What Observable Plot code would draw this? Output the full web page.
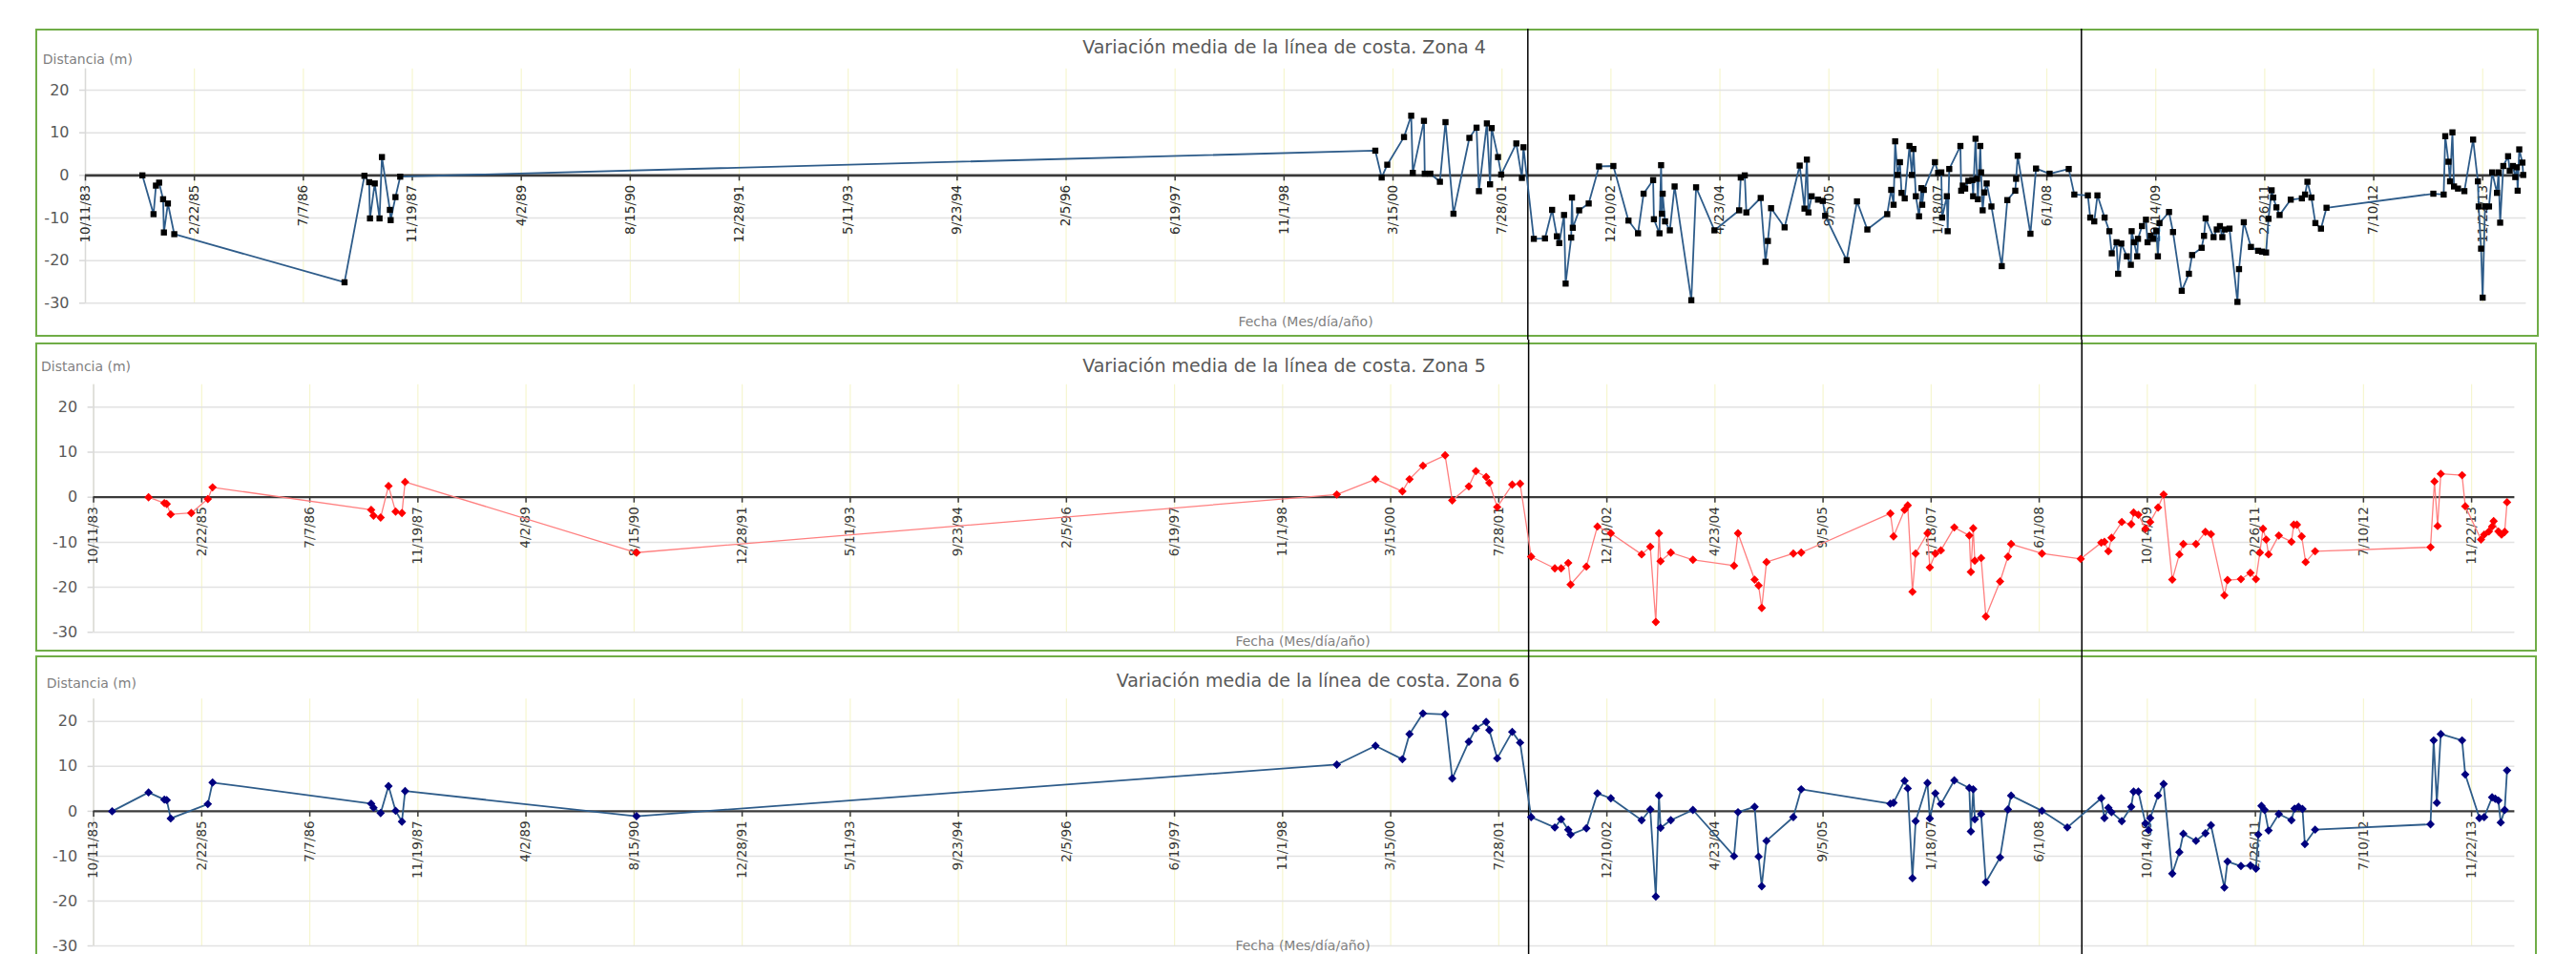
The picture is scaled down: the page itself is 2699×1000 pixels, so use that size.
<!DOCTYPE html>
<html>
<head>
<meta charset="utf-8">
<script src="https://cdn.jsdelivr.net/npm/d3@7"></script>
<script src="https://cdn.jsdelivr.net/npm/@observablehq/plot@0.6"></script>
<style>
  body { margin: 0; background: #fff; }
  #root { position: relative; width: 2699px; height: 1000px; overflow: hidden; font-family: "DejaVu Sans", sans-serif; }
  .box { position: absolute; border: 2px solid #70ad47; box-sizing: border-box; }
  .plot { position: absolute; left: 0; }
  .title { position: absolute; font-size: 19px; color: #595959; white-space: nowrap; transform: translate(-50%, -50%); }
  .ylab { position: absolute; font-size: 14px; color: #7f7f7f; white-space: nowrap; transform: translateY(-50%); }
  .xlab { position: absolute; font-size: 14px; color: #7f7f7f; white-space: nowrap; transform: translate(-50%, -50%); }
</style>
</head>
<body>
<div id="root"></div>
<script>
// ---------------- DATA ----------------
const xTickLabels = ["10/11/83","2/22/85","7/7/86","11/19/87","4/2/89","8/15/90","12/28/91","5/11/93","9/23/94","2/5/96","6/19/97","11/1/98","3/15/00","7/28/01","12/10/02","4/23/04","9/5/05","1/18/07","6/1/08","10/14/09","2/26/11","7/10/12","11/22/13"];
const yTicks = [-30, -20, -10, 0, 10, 20];
const titles = ["Variación media de la línea de costa. Zona 4", "Variación media de la línea de costa. Zona 5", "Variación media de la línea de costa. Zona 6"];
const yAxisTitle = "Distancia (m)";
const xAxisTitle = "Fecha (Mes/día/año)";

// vertical divider lines (decimal years, as read in each panel)
const dividersZona4 = [2001.895, 2008.849];
const dividersZona56 = [2001.948, 2008.954];

// Zona 4 (decimal year, distance m)
const years4 = [1984.49,1984.63,1984.66,1984.70,1984.75,1984.76,1984.81,1984.89,1987.03,1987.28,1987.34,1987.35,1987.41,1987.47,1987.50,1987.60,1987.61,1987.67,1987.73,
1999.98,2000.06,2000.13,2000.34,2000.43,2000.45,2000.59,2000.60,2000.67,2000.79,2000.86,2000.96,2001.16,2001.25,2001.28,2001.38,2001.42,2001.44,2001.52,2001.56,2001.75,2001.82,2001.84,
2001.97,2002.11,2002.20,2002.26,2002.29,2002.35,2002.37,2002.44,2002.45,2002.46,2002.54,2002.66,2002.79,2002.97,2003.16,2003.28,2003.35,2003.47,2003.48,2003.55,2003.57,2003.58,2003.59,2003.62,2003.68,2003.74,2003.95,2004.01,2004.24,
2004.55,2004.57,2004.62,2004.64,2004.82,2004.88,2004.91,2004.95,2005.12,2005.31,2005.37,2005.40,2005.42,2005.46,2005.54,2005.60,2005.63,2005.90,2006.03,2006.16,
2006.41,2006.46,2006.49,2006.51,2006.54,2006.57,2006.59,2006.63,2006.69,2006.72,2006.74,2006.77,2006.81,2006.84,2006.85,2006.87,2007.01,2007.05,2007.09,2007.10,2007.16,2007.17,2007.19,
2007.33,2007.34,2007.36,2007.39,2007.43,2007.48,2007.49,2007.52,2007.54,2007.55,2007.58,2007.59,2007.61,2007.63,2007.66,2007.72,2007.85,2007.92,2008.02,2008.03,2008.05,2008.21,2008.28,2008.45,2008.69,2008.76,
2008.93,2008.96,2009.01,2009.05,2009.14,2009.20,2009.23,2009.29,2009.31,2009.35,2009.42,2009.47,2009.48,2009.51,2009.55,2009.56,2009.61,2009.66,2009.68,2009.72,2009.75,2009.79,2009.81,2009.83,2009.95,2010.00,
2010.11,2010.20,2010.24,2010.36,2010.39,2010.41,2010.51,2010.55,2010.59,2010.62,2010.65,2010.71,2010.81,2010.83,2010.89,2010.98,2011.07,2011.12,2011.17,2011.20,2011.24,2011.26,2011.30,2011.34,2011.48,2011.62,2011.66,2011.69,2011.74,2011.79,2011.86,2011.93,
2013.27,2013.40,2013.42,2013.46,2013.48,2013.51,2013.53,2013.58,2013.66,2013.77,2013.83,2013.84,2013.87,2013.89,2013.92,2013.97,2014.01,2014.07,2014.09,2014.11,2014.15,2014.21,2014.23,2014.27,2014.30,2014.32,2014.33,2014.35,2014.39,2014.40];
const dist4 = [0,-9.1,-2.4,-1.7,-5.6,-13.4,-6.6,-13.8,-25.1,-0.1,-1.6,-10.1,-1.9,-10.1,4.3,-8.1,-10.5,-5.1,-0.3,
5.8,-0.5,2.5,9.0,14.0,0.6,12.8,0.4,0.4,-1.5,12.5,-9.0,8.8,11.2,-3.7,12.2,-2.1,11.1,4.3,0.2,7.5,-0.6,6.6,
-14.9,-14.8,-8.1,-14.3,-15.9,-9.3,-25.4,-14.6,-5.2,-12.3,-8.2,-6.6,2.1,2.2,-10.6,-13.6,-4.3,-1.1,-10.3,-13.6,2.4,-9.0,-4.3,-10.8,-12.9,-2.6,-29.3,-2.8,-12.9,
-8.2,-0.5,0.0,-8.7,-5.3,-20.3,-15.4,-7.7,-12.2,2.3,-7.8,3.7,-8.7,-4.9,-5.7,-6.0,-9.5,-19.9,-6.1,-12.7,
-9.1,-3.4,-6.9,8.0,0.1,3.1,-4.1,-5.4,6.9,0.1,6.2,-4.9,-9.6,-3.0,-6.9,-3.4,3.1,0.6,0.7,-9.9,-4.9,-13.1,1.5,
6.9,-3.6,-2.4,-3.1,-1.3,-1.1,-4.9,8.6,-0.8,-5.6,6.9,0.7,-8.2,-4.0,-1.9,-7.3,-21.3,-5.8,-3.6,-0.8,4.6,-13.7,1.6,0.4,1.5,-4.5,
-4.7,-9.9,-10.8,-4.7,-9.9,-13.1,-18.3,-15.7,-23.1,-16.0,-19.0,-21.0,-13.1,-15.7,-19.0,-14.9,-11.9,-10.4,-15.7,-14.2,-14.9,-13.1,-19.0,-11.2,-8.6,-13.3,
-27.1,-23.1,-18.7,-17.0,-14.2,-10.1,-14.5,-12.7,-11.9,-14.5,-12.7,-12.5,-29.7,-22.0,-11.0,-16.8,-17.7,-17.9,-18.1,-10.2,-3.5,-5.2,-7.5,-9.3,-5.7,-5.4,-4.5,-1.5,-5.2,-11.2,-12.5,-7.6,
-4.3,-4.5,9.2,3.2,-1.4,10.1,-2.6,-3.1,-3.7,8.4,-1.4,-7.3,-17.2,-28.7,-7.3,-7.3,0.7,-4.1,0.7,-11.1,2.2,4.5,1.1,2.2,-0.4,1.9,-3.6,6.1,3.0,0.1];

// Zona 5
const years5 = [1984.47,1984.67,1984.70,1984.75,1985.01,1985.22,1985.28,1987.29,1987.32,1987.41,1987.51,1987.60,1987.68,1987.72,1990.65,
1999.52,2000.01,2000.35,2000.44,2000.61,2000.89,2000.98,2001.19,2001.28,2001.41,2001.45,2001.55,2001.74,2001.84,
2001.98,2002.28,2002.36,2002.45,2002.48,2002.68,2002.82,2002.99,2003.38,2003.49,2003.56,2003.60,2003.62,2003.75,2004.03,
2004.55,2004.60,2004.81,2004.86,2004.90,2004.96,2005.30,2005.40,2006.53,2006.57,2006.71,2006.75,2006.81,2006.85,2007.00,2007.03,2007.10,2007.17,2007.34,2007.53,2007.55,2007.58,2007.60,2007.68,2007.74,2007.92,2008.02,2008.06,2008.45,
2008.94,2009.20,2009.24,2009.29,2009.33,2009.46,2009.58,2009.61,2009.67,2009.76,2009.82,2009.92,2009.99,2010.10,2010.19,2010.24,2010.40,2010.52,2010.59,2010.76,2010.80,2010.97,2011.09,2011.16,2011.21,2011.25,2011.29,2011.32,2011.45,2011.61,2011.64,2011.68,2011.74,2011.79,2011.91,
2013.37,2013.42,2013.46,2013.50,2013.77,2013.81,2014.01,2014.05,2014.11,2014.15,2014.17,2014.23,2014.27,2014.31,2014.34];
const dist5 = [0,-1.3,-1.5,-3.8,-3.5,-0.4,2.2,-2.8,-4.1,-4.5,2.5,-3.2,-3.5,3.4,-12.3,
0.6,4.0,1.3,4.0,7.0,9.3,-0.7,2.4,5.8,4.5,3.2,-2.2,2.8,3.0,
-13.2,-15.8,-15.8,-14.6,-19.4,-15.4,-6.5,-8.0,-12.7,-11.0,-27.7,-8.0,-14.2,-12.3,-13.9,
-15.2,-8.0,-18.3,-19.6,-24.6,-14.4,-12.5,-12.3,-3.6,-8.7,-2.8,-1.8,-21.0,-12.5,-8.0,-15.6,-12.5,-11.8,-6.7,-8.5,-16.6,-6.9,-14.1,-13.5,-26.5,-18.7,-13.2,-10.4,-12.5,
-13.7,-10.1,-9.9,-12.0,-9.0,-5.5,-6.0,-3.4,-3.9,-7.0,-5.5,-2.3,0.6,-18.3,-12.7,-10.4,-10.4,-7.7,-8.2,-21.8,-18.4,-18.2,-16.8,-18.2,-12.3,-7.0,-9.4,-12.7,-8.5,-9.9,-6.1,-6.1,-8.7,-14.4,-12.0,
-11.1,3.5,-6.4,5.2,4.9,-2.0,-9.4,-8.3,-7.6,-6.5,-5.3,-7.6,-8.3,-7.7,-1.1];

// Zona 6
const years6 = [1984.01,1984.47,1984.67,1984.70,1984.75,1985.22,1985.28,1987.29,1987.32,1987.41,1987.51,1987.60,1987.68,1987.72,1990.65,
1999.52,2000.01,2000.35,2000.44,2000.61,2000.89,2000.98,2001.19,2001.28,2001.41,2001.45,2001.55,2001.74,2001.84,
2001.98,2002.28,2002.36,2002.45,2002.48,2002.68,2002.82,2002.99,2003.38,2003.49,2003.56,2003.60,2003.62,2003.75,2004.03,
2004.55,2004.60,2004.81,2004.86,2004.90,2004.96,2005.30,2005.40,2006.53,2006.57,2006.71,2006.75,2006.81,2006.85,2007.00,2007.03,2007.10,2007.17,2007.34,2007.53,2007.55,2007.58,2007.60,2007.68,2007.74,2007.92,2008.02,2008.06,2008.45,2008.77,
2009.20,2009.24,2009.29,2009.33,2009.46,2009.58,2009.61,2009.67,2009.76,2009.80,2009.82,2009.92,2009.99,2010.10,2010.19,2010.24,2010.40,2010.52,2010.59,2010.76,2010.80,2010.97,2011.09,2011.16,2011.19,2011.23,2011.27,2011.32,2011.45,2011.61,2011.65,2011.70,2011.75,2011.78,2011.91,
2013.37,2013.41,2013.45,2013.50,2013.77,2013.81,2013.99,2014.05,2014.15,2014.19,2014.23,2014.26,2014.31,2014.34];
const dist6 = [0,4.2,2.6,2.5,-1.6,1.6,6.4,1.7,0.8,-0.4,5.6,0.1,-2.3,4.5,-1.1,
10.4,14.6,11.6,17.2,21.8,21.6,7.3,15.5,18.5,19.9,18.1,11.8,17.7,15.3,
-1.3,-3.6,-1.8,-4.1,-5.2,-3.8,4.0,2.9,-2.0,0.4,-19.0,3.5,-3.7,-2.0,0.3,
-10.0,-0.2,1.0,-10.1,-16.7,-6.6,-1.3,4.9,1.7,1.9,6.8,5.1,-14.9,-2.2,6.3,-1.6,4.0,1.6,6.9,5.2,-4.5,4.9,-1.8,-0.6,-15.8,-10.3,0.4,3.5,0.1,-3.6,
2.9,-1.5,0.8,-0.2,-2.2,1.0,4.4,4.4,-2.7,-4.2,-1.5,3.5,6.1,-13.9,-9.1,-5.0,-6.6,-4.9,-3.1,-17.0,-11.2,-12.2,-12.1,-12.8,-5.2,1.2,0.3,-4.3,-0.6,-2.0,0.6,1.0,0.5,-7.3,-4.1,
-2.9,15.8,1.9,17.2,15.8,8.2,-1.5,-1.3,3.1,2.8,2.4,-2.5,0.3,9.1];

// ---------------- HELPERS ----------------
function decYear(y) {
  const yr = Math.floor(y);
  const s = Date.UTC(yr, 0, 1), e = Date.UTC(yr + 1, 0, 1);
  return new Date(s + (y - yr) * (e - s));
}
function parseMDY(str) {
  const [m, d, yy] = str.split("/").map(Number);
  const year = yy > 50 ? 1900 + yy : 2000 + yy;
  return new Date(Date.UTC(year, m - 1, d));
}
const xStart = parseMDY(xTickLabels[0]);
const xEnd = new Date(+xStart + 11200 * 864e5);
const xTicks = xTickLabels.map(l => ({date: parseMDY(l), label: l}));
const rows = (ys, ds) => ys.map((y, i) => ({date: decYear(y), value: ds[i]}));

const panels = [
  {top: 30, height: 326, mt: 41.7, mb: 38.7, ml: 89, mr: 52.6,
   box: {left: 37, top: 30, width: 2623, height: 323},
   title: {x: 1345.5, y: 49.3}, ylab: {x: 44.8, y: 62.3}, xlab: {x: 1368, y: 337.3},
   data: rows(years4, dist4), dividers: dividersZona4.map(decYear),
   line: "#2e5c8a", lineW: 1.8, dot: "#000000", symbol: "square", r: 3.6, zeroW: 2.8, dateFill: "#2b2b2b"},
  {top: 356, height: 329, mt: 46.7, mb: 22.7, ml: 97.6, mr: 64.6,
   box: {left: 37, top: 359, width: 2621, height: 324},
   title: {x: 1345.5, y: 382.7}, ylab: {x: 43, y: 384.3}, xlab: {x: 1365, y: 671.7},
   data: rows(years5, dist5), dividers: dividersZona56.map(decYear),
   line: "#ff7f7f", lineW: 1.3, dot: "#ff0000", symbol: "diamond2", r: 4, zeroW: 2.2, dateFill: "#3a3a3a"},
  {top: 685, height: 325, mt: 47.3, mb: 19, ml: 97.6, mr: 64.6,
   box: {left: 37, top: 687, width: 2621, height: 330},
   title: {x: 1381, y: 713.3}, ylab: {x: 48.8, y: 716}, xlab: {x: 1365, y: 991},
   data: rows(years6, dist6), dividers: dividersZona56.map(decYear),
   line: "#2e5c8a", lineW: 1.8, dot: "#00007f", symbol: "diamond2", r: 4, zeroW: 2.2, dateFill: "#3a3a3a"}
];

const root = document.getElementById("root");

panels.forEach((p, k) => {
  const box = document.createElement("div");
  box.className = "box";
  Object.assign(box.style, {left: p.box.left + "px", top: p.box.top + "px", width: p.box.width + "px", height: p.box.height + "px"});
  root.appendChild(box);

  const chart = Plot.plot({
    width: 2699, height: p.height,
    marginTop: p.mt, marginBottom: p.mb, marginLeft: p.ml, marginRight: p.mr,
    style: {background: "transparent", fontFamily: "DejaVu Sans, sans-serif", overflow: "visible"},
    x: {type: "utc", domain: [xStart, xEnd], axis: null},
    y: {domain: [-30, 25], axis: null},
    marks: [
      Plot.ruleX(xTicks, {x: "date", stroke: "#f6f6cf", strokeWidth: 1.2}),
      Plot.ruleY(yTicks.filter(d => d !== 0), {y: d => d, stroke: "#e2e2e2", strokeWidth: 1.5}),
      Plot.ruleX([xStart], {x: d => d, stroke: "#d9d9d9", strokeWidth: 1.5}),
      Plot.ruleY(yTicks, {y: d => d, x1: () => xStart, x2: () => xStart, insetLeft: -6, stroke: "#d9d9d9", strokeWidth: 1.5}),
      Plot.text(yTicks, {y: d => d, frameAnchor: "left", dx: -17, textAnchor: "end", text: d => String(d), fill: "#595959", fontSize: 16}),
      Plot.ruleY([0], {y: d => d, stroke: "#3a3a3a", strokeWidth: p.zeroW}),
      Plot.ruleX(xTicks, {x: "date", y1: () => 0, y2: () => 0, insetBottom: -6, stroke: "#3a3a3a", strokeWidth: 1.5}),
      Plot.text(xTicks, {x: "date", y: () => 0, text: "label", rotate: -90, textAnchor: "end", lineAnchor: "middle", dy: 10, fill: p.dateFill, fontSize: 13.5}),
      Plot.ruleX(p.dividers, {x: d => d, stroke: "#000000", strokeWidth: 1.5, insetTop: -p.mt, insetBottom: -p.mb}),
      Plot.line(p.data, {x: "date", y: "value", stroke: p.line, strokeWidth: p.lineW}),
      Plot.dot(p.data, {x: "date", y: "value", symbol: p.symbol, r: p.r, fill: p.dot, stroke: "none"})
    ]
  });
  chart.classList.add("plot");
  chart.style.top = p.top + "px";
  chart.style.position = "absolute";
  root.appendChild(chart);

  const t = document.createElement("div");
  t.className = "title"; t.textContent = titles[k];
  Object.assign(t.style, {left: p.title.x + "px", top: p.title.y + "px"});
  root.appendChild(t);

  const yl = document.createElement("div");
  yl.className = "ylab"; yl.textContent = yAxisTitle;
  Object.assign(yl.style, {left: p.ylab.x + "px", top: p.ylab.y + "px"});
  root.appendChild(yl);

  const xl = document.createElement("div");
  xl.className = "xlab"; xl.textContent = xAxisTitle;
  Object.assign(xl.style, {left: p.xlab.x + "px", top: p.xlab.y + "px"});
  root.appendChild(xl);
});
</script>
</body>
</html>
